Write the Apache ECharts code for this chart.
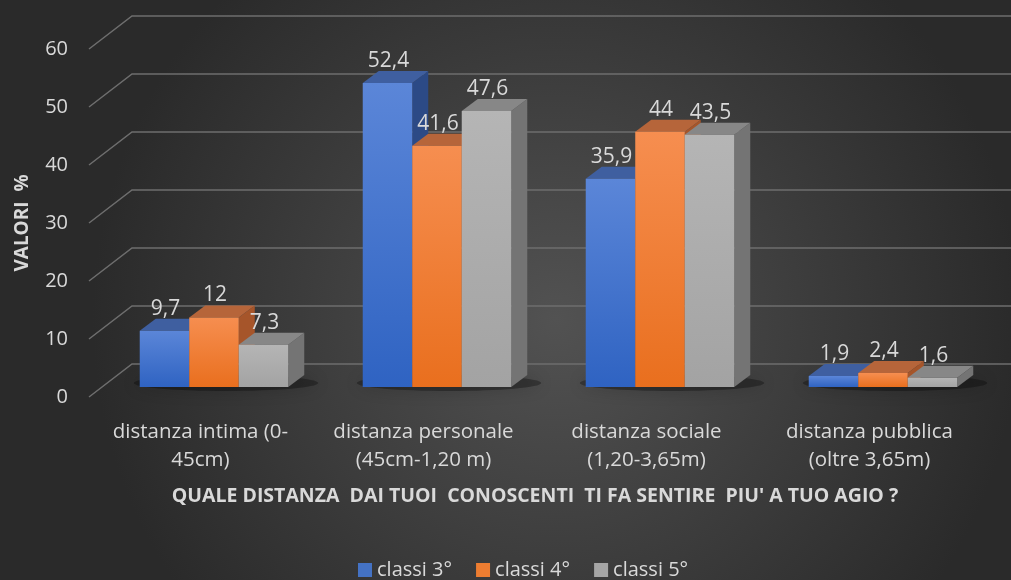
<!DOCTYPE html>
<html><head><meta charset="utf-8">
<script src="https://cdn.jsdelivr.net/npm/echarts@6/dist/echarts.min.js"></script>
<style>html,body{margin:0;padding:0;background:#3a3a3a}#c{width:1011px;height:580px}</style>
</head><body><div id="c"></div>
<script>
const categories = ["distanza intima (0-\n45cm)", "distanza personale\n(45cm-1,20 m)", "distanza sociale\n(1,20-3,65m)", "distanza pubblica\n(oltre 3,65m)"];
const seriesNames = ["classi 3°", "classi 4°", "classi 5°"];
const classi3 = [9.7, 52.4, 35.9, 1.9];
const classi4 = [12, 41.6, 44, 2.4];
const classi5 = [7.3, 47.6, 43.5, 1.6];
const yTicks = [0, 10, 20, 30, 40, 50, 60];

const FONT = '"Open Sans", "Noto Sans", sans-serif';
const TXT = '#d9d9d9';
const DX = 16, DY = -12;           // bar depth
const FRONT = [-13.5, 10];         // floor front edge relative to bar plane
const BACK = [29.5, -23];          // back wall relative to bar plane
const BAR_FRAC = 0.222;

const palettes = [
  {legend: '#4472c4', g0: '#5b86d8', g1: '#2f63c2', top: '#3f5fa0', side: '#2c4a86'},
  {legend: '#ed7d31', g0: '#f68e50', g1: '#e96f1e', top: '#b6653a', side: '#a6552a'},
  {legend: '#a5a5a5', g0: '#b5b5b5', g1: '#a3a3a3', top: '#878787', side: '#747474'}
];
const seriesData = [classi3, classi4, classi5];

function fmt(v){ return String(v).replace('.', ','); }

function barRender(s){
  const p = palettes[s];
  return function(params, api){
    const cat = api.value(0), v = api.value(1);
    const base = api.coord([cat, 0]);
    const top = api.coord([cat, v]);
    const band = api.size([1, 0])[0];
    const bw = band * BAR_FRAC;
    const x0 = base[0] - 1.5 * bw + s * bw, x1 = x0 + bw;
    const yb = base[1], yt = top[1];
    return {type: 'group', children: [
      {type: 'polygon', shape: {points: [[x1, yt], [x1 + DX, yt + DY], [x1 + DX, yb + DY], [x1, yb]]}, style: {fill: p.side}},
      {type: 'polygon', shape: {points: [[x0, yt], [x1, yt], [x1 + DX, yt + DY], [x0 + DX, yt + DY]]}, style: {fill: p.top}},
      {type: 'rect', shape: {x: x0, y: yt, width: bw, height: yb - yt},
        style: {fill: {type: 'linear', x: 0, y: 0, x2: 0, y2: 1, colorStops: [{offset: 0, color: p.g0}, {offset: 1, color: p.g1}]}}},
      {type: 'text', style: {text: fmt(v), x: x0 + bw / 2 + 1, y: yt - 22, fill: TXT, fontSize: 21, fontFamily: FONT, align: 'center', verticalAlign: 'middle'}}
    ]};
  };
}

function gridRender(params, api){
  const v = api.value(0);
  const cs = params.coordSys;
  const y = api.coord([0, v])[1];
  return {type: 'polyline', shape: {points: [
    [cs.x + FRONT[0], y + FRONT[1]], [cs.x + BACK[0], y + BACK[1]], [api.getWidth(), y + BACK[1]]
  ]}, style: {stroke: '#6e6e6e', lineWidth: 1.5, fill: null}};
}

function shadowRender(params, api){
  const cat = api.value(0);
  const base = api.coord([cat, 0]);
  const band = api.size([1, 0])[0];
  const bw = band * BAR_FRAC;
  const x0 = base[0] - 1.5 * bw, x1 = x0 + 3 * bw;
  return {type: 'ellipse', shape: {cx: (x0 + x1) / 2 + DX / 2 + 4, cy: base[1] + DY / 2 + 2, rx: (x1 - x0) / 2 + 18, ry: 8},
    style: {fill: 'rgba(0,0,0,0.3)', shadowBlur: 16, shadowColor: 'rgba(0,0,0,0.6)'}};
}

const chart = echarts.init(document.getElementById('c'), null, {renderer: 'canvas'});
const series = [
  {type: 'custom', name: 'grid', xAxisIndex: 0, yAxisIndex: 0, renderItem: gridRender, data: yTicks.map(t => [t]), encode: {y: 0}, silent: true, z: 1, clip: false},
  {type: 'custom', name: 'shadow', xAxisIndex: 0, yAxisIndex: 0, renderItem: shadowRender, data: categories.map((c, i) => [i]), encode: {x: 0}, silent: true, z: 2, clip: false}
];
seriesData.forEach((d, s) => {
  series.push({type: 'custom', name: seriesNames[s], xAxisIndex: 0, yAxisIndex: 0, renderItem: barRender(s),
    data: d.map((v, i) => [i, v]), encode: {x: 0, y: 1}, itemStyle: {color: palettes[s].legend}, z: 3 + s, clip: false});
});

chart.setOption({
  animation: false,
  backgroundColor: {type: 'radial', x: 0.55, y: 0.55, r: 0.8, colorStops: [{offset: 0, color: '#525252'}, {offset: 1, color: '#2a2a2a'}]},
  grid: [
    {left: 102.5, right: 16.5, top: 39, bottom: 193},
    {left: 89, right: 30, top: 49, bottom: 183}
  ],
  xAxis: [
    {type: 'category', gridIndex: 0, data: categories, show: false},
    {type: 'category', gridIndex: 1, data: categories, axisLine: {show: false}, axisTick: {show: false},
      axisLabel: {color: TXT, fontSize: 20.5, fontFamily: FONT, lineHeight: 28, margin: 21, interval: 0},
      name: "QUALE DISTANZA  DAI TUOI  CONOSCENTI  TI FA SENTIRE  PIU' A TUO AGIO ?", nameLocation: 'middle', nameGap: 89,
      nameTextStyle: {color: TXT, fontSize: 19.5, fontWeight: 'bold', fontFamily: FONT}}
  ],
  yAxis: [
    {type: 'value', gridIndex: 0, min: 0, max: 60, interval: 10, show: false},
    {type: 'value', gridIndex: 1, min: 0, max: 60, interval: 10, splitLine: {show: false}, axisLine: {show: false}, axisTick: {show: false},
      axisLabel: {color: TXT, fontSize: 20, fontFamily: FONT, margin: 21, padding: [6, 0, 0, 0]},
      name: 'VALORI  %', nameLocation: 'middle', nameGap: 57, nameRotate: 90,
      nameTextStyle: {color: TXT, fontSize: 19, fontWeight: 'bold', fontFamily: FONT}}
  ],
  legend: {data: seriesNames, top: 555, left: 353, itemWidth: 14, itemHeight: 14, itemGap: 24, itemTextGap: 6, icon: 'rect',
    textStyle: {color: TXT, fontSize: 20, fontFamily: FONT}},
  series: series
});
</script></body></html>
